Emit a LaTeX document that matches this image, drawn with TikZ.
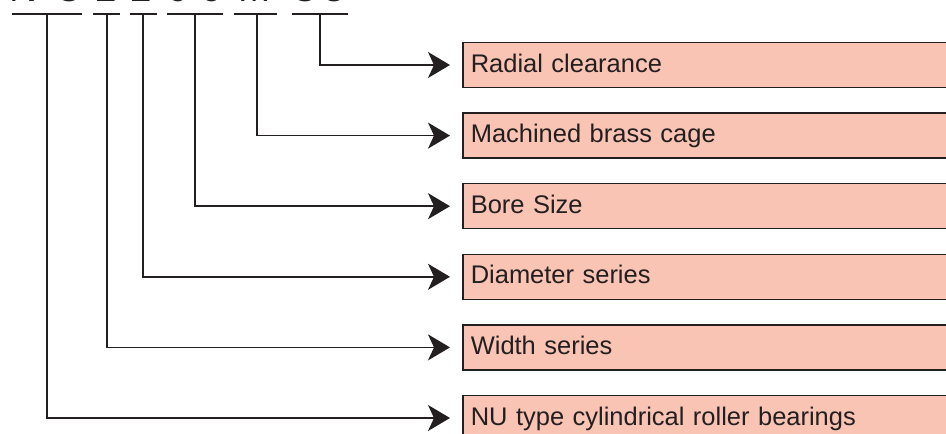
\documentclass[tikz,border=0pt]{standalone}
\usepackage{fontspec}
\setmainfont{Liberation Sans}
\usetikzlibrary{arrows.meta}
\definecolor{boxfill}{RGB}{250,196,180}
\definecolor{ink}{RGB}{35,31,32}
\begin{document}
\begin{tikzpicture}[x=0.02cm,y=-0.02cm,
	lbl/.style={draw=ink,line width=0.9pt,fill=boxfill,anchor=west,minimum height=0.9cm,text width=11cm,inner xsep=0.16cm,align=left,font=\fontsize{14.5}{16}\selectfont,text=ink,text height=10pt,text depth=2pt},
	code/.style={anchor=base,inner sep=0pt,font=\fontsize{22}{26}\selectfont,text=ink},
	bar/.style={draw=ink,line width=0.85pt},
	lead/.style={draw=ink,line width=0.85pt,-{Stealth[length=0.44cm,width=0.52cm,inset=0.12cm]},shorten >=0.24cm}]
		\useasboundingbox (0,0) rectangle (946,433);
		\clip (0,0) rectangle (946,433);
		
		\node[code] (cN) at (23,1.5) {N};
		\node[code] (cU) at (69,1.5) {U};
		\node[code] (cW) at (106,1.5) {2};
		\node[code] (cD) at (141,1.5) {2};
		\node[code] (cB1) at (178,1.5) {0};
		\node[code] (cB2) at (211,1.5) {6};
		\node[code] (cM) at (255,1.5) {M};
		\node[code] (cC) at (304,1.5) {C};
		\node[code] (cCl) at (334,1.5) {3};
		
		\draw[bar] (12,14) -- (82,14);
		\draw[bar] (93,14) -- (120,14);
		\draw[bar] (130,14) -- (157,14);
		\draw[bar] (167,14) -- (223,14);
		\draw[bar] (234,14) -- (277,14);
		\draw[bar] (292,14) -- (348,14);
		
		\coordinate (ty) at (47,14);
		\coordinate (ws) at (107,14);
		\coordinate (ds) at (143,14);
		\coordinate (bs) at (195,14);
		\coordinate (cg) at (257,14);
		\coordinate (cl) at (320,14);
		
		\node[lbl] (rc) at (462,65) {Radial clearance};
		\node[lbl] (mb) at (462,135.6) {Machined brass cage};
		\node[lbl] (bore) at (462,206.2) {Bore Size};
		\node[lbl] (dia) at (462,276.8) {Diameter series};
		\node[lbl] (wid) at (462,347.4) {Width series};
		\node[lbl] (typ) at (462,418) {NU type cylindrical roller bearings};
		
		\draw[lead] (cl) |- (rc.west);
		\draw[lead] (cg) |- (mb.west);
		\draw[lead] (bs) |- (bore.west);
		\draw[lead] (ds) |- (dia.west);
		\draw[lead] (ws) |- (wid.west);
		\draw[lead] (ty) |- (typ.west);
	\end{tikzpicture}
\end{document}
